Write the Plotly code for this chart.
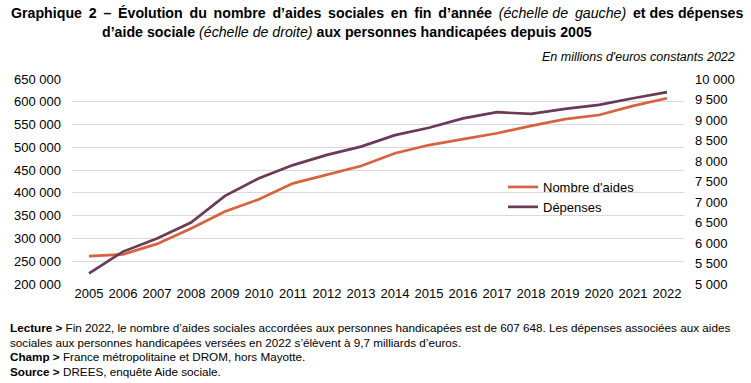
import plotly.graph_objects as go

years = [str(y) for y in range(2005, 2023)]
nombre_aides = [261000, 265000, 288000, 322000, 359000, 386000, 421000, 440000, 459000,
                487000, 505000, 518000, 531000, 547000, 562000, 571000, 591000, 607648]
depenses = [5260, 5790, 6110, 6500, 7150, 7580, 7900, 8150, 8350,
            8630, 8810, 9040, 9190, 9150, 9270, 9370, 9530, 9680]

left_ticks = list(range(200000, 650001, 50000))
right_ticks = list(range(5000, 10001, 500))

ORANGE = "#D8623E"
PURPLE = "#6B3A58"
FONT = "Liberation Sans, Arial, sans-serif"

W, H = 751, 383
L, R, T, B = 72, 67, 79, 99
PW, PH = W - L - R, H - T - B

fig = go.Figure()
fig.add_trace(go.Scatter(x=years, y=nombre_aides, name="Nombre d'aides", mode="lines",
                         line=dict(color=ORANGE, width=2.7), yaxis="y"))
fig.add_trace(go.Scatter(x=years, y=depenses, name="Dépenses", mode="lines",
                         line=dict(color=PURPLE, width=2.7), yaxis="y2"))

fig.update_layout(
    width=W, height=H,
    margin=dict(l=L, r=R, t=T, b=B),
    paper_bgcolor="white", plot_bgcolor="white",
    separators=", ",
    font=dict(family=FONT, size=13, color="#000000"),
    showlegend=True,
    legend=dict(x=(503 - L) / PW, y=(T + PH - 172) / PH, xanchor="left", yanchor="top",
                bgcolor="rgba(0,0,0,0)", font=dict(size=13), tracegroupgap=0),
    xaxis=dict(type="category", showgrid=False, zeroline=False, showline=False,
               ticks="", tickfont=dict(size=13), range=[-0.5, 17.5]),
    yaxis=dict(range=[200000, 650000], tickvals=left_ticks, tickformat=",d",
               showgrid=True, gridcolor="#D9D9D9", gridwidth=1, zeroline=False,
               ticks="", tickfont=dict(size=13), ticklabelstandoff=10),
    yaxis2=dict(range=[5000, 10000], tickvals=right_ticks, tickformat=",d",
                overlaying="y", side="right", showgrid=False, zeroline=False,
                ticks="", tickfont=dict(size=13), ticklabelstandoff=10),
)

# The reference title's first line is justified: widen its word gaps slightly
G = " \u2009"
title_line1 = ("<b>Graphique" + G + "2" + G + "–" + G + "Évolution" + G + "du" + G + "nombre" + G
               + "d’aides" + G + "sociales" + G + "en" + G + "fin" + G + "d’année</b>" + G
               + "<i>(échelle de" + G + "gauche)</i>" + G + "<b>et des dépenses</b>")

annotations = [
    dict(text=title_line1, x=9, y=13, font=dict(size=14.2)),
    dict(text="<b>d’aide sociale</b> <i>(échelle de droite)</i> "
              "<b>aux personnes handicapées depuis 2005</b>",
         x=100, y=32, font=dict(size=14.2)),
    dict(text="<i>En millions d'euros constants 2022</i>", x=737, y=57,
         xanchor_override="right", font=dict(size=12.5)),
    dict(text="<b>Lecture ></b> Fin 2022, le nombre d’aides sociales accordées aux personnes "
              "handicapées est de 607 648. Les dépenses associées aux aides",
         x=8, y=327, font=dict(size=11.7)),
    dict(text="sociales aux personnes handicapées versées en 2022 s’élèvent à 9,7 milliards d’euros.",
         x=8, y=342, font=dict(size=11.7)),
    dict(text="<b>Champ ></b> France métropolitaine et DROM, hors Mayotte.",
         x=8, y=356, font=dict(size=11.7)),
    dict(text="<b>Source ></b> DREES, enquête Aide sociale.",
         x=8, y=371, font=dict(size=11.7)),
]
for a in annotations:
    xa = a.pop("xanchor_override", "left")
    fig.add_annotation(text=a["text"], x=(a["x"] - L) / PW, y=(T + PH - a["y"]) / PH,
                       xref="paper", yref="paper", xanchor=xa, yanchor="middle",
                       showarrow=False, align="left",
                       font=dict(family=FONT, color="#000000", **a["font"]))

fig.write_html("out.html", config={"displayModeBar": False},
               post_script="document.body.style.margin='0';")
